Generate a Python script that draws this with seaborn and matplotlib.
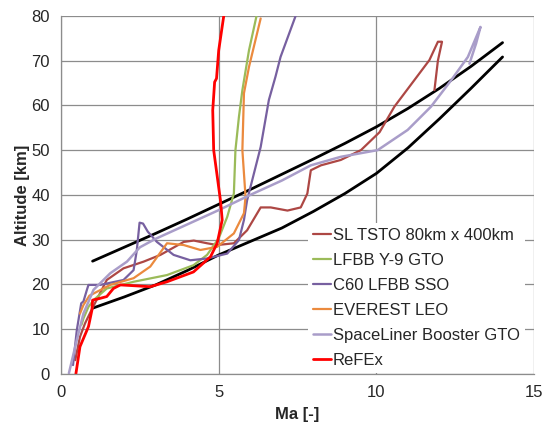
import numpy as np
import pandas as pd
import matplotlib
matplotlib.use("Agg")
import matplotlib.pyplot as plt
import seaborn as sns

# flight corridor bounds (black lines)
upper_ma = [1, 2, 3, 4, 5, 6, 7, 8, 9, 10, 11, 12, 13, 14]
upper_alt = [25.2, 28.3, 31.4, 34.6, 37.9, 41.2, 44.6, 48.0, 51.5, 55.2, 59.3, 63.8, 68.7, 74.0]
lower_ma = [1, 2, 3, 4, 5, 6, 7, 8, 9, 10, 11, 12, 13, 14]
lower_alt = [14.7, 17.2, 19.9, 23.1, 26.6, 29.6, 32.6, 36.3, 40.3, 44.8, 50.5, 57.0, 63.8, 70.8]

# trajectories
sl_ma = [0.45, 0.6, 0.76, 0.98, 1.45, 1.98, 2.62, 3.15, 3.89, 4.21, 4.63, 4.95, 5.48, 5.9, 6.33,
         6.65, 7.18, 7.6, 7.81, 7.92, 8.24, 8.87, 9.51, 10.1, 10.57, 11.2, 11.68, 11.95, 12.08, 11.95, 11.84]
sl_alt = [3.1, 8.3, 11.3, 14.5, 21.0, 23.6, 25.1, 26.6, 29.5, 29.8, 29.2, 28.8, 29.2, 32.1, 37.2,
          37.2, 36.5, 37.2, 40.3, 45.5, 46.6, 47.8, 50.0, 54.0, 59.7, 65.6, 70.1, 74.2, 74.2, 70.0, 63.4]

lfbb_ma = [0.65, 0.71, 0.87, 1.03, 1.45, 2.3, 3.36, 4.2, 4.63, 5.0, 5.27, 5.48, 5.53, 5.64, 5.75, 5.96, 6.2]
lfbb_alt = [11.0, 12.4, 15.0, 16.5, 19.1, 20.6, 22.1, 24.3, 26.6, 30.3, 35.1, 40.3, 50.0, 57.4, 63.4, 72.3, 80.0]

c60_ma = [0.38, 0.5, 0.64, 0.71, 0.82, 0.87, 1.24, 1.98, 2.3, 2.4, 2.49, 2.6, 2.75, 3.04, 3.57, 4.1, 4.63,
          5.27, 5.64, 5.8, 5.9, 6.33, 6.59, 6.8, 6.96, 7.44]
c60_alt = [2.0, 9.8, 15.8, 16.2, 18.8, 19.9, 19.9, 21.0, 23.2, 27.5, 33.8, 33.6, 31.8, 29.5, 26.6, 25.4, 25.8,
           26.9, 29.9, 34.4, 38.8, 50.7, 61.2, 66.4, 70.8, 80.0]

everest_ma = [0.6, 0.71, 0.9, 1.56, 2.3, 2.83, 3.36, 3.89, 4.42, 4.95, 5.48, 5.8, 5.85, 5.75, 5.8, 5.96, 6.33]
everest_alt = [13.5, 15.4, 17.5, 19.9, 21.4, 24.0, 29.2, 28.8, 27.7, 28.4, 31.4, 35.9, 39.6, 50.0, 62.7, 68.6, 79.4]

sp_ma = [0.25, 0.5, 0.71, 1.03, 1.56, 2.09, 2.5, 3.0, 4.0, 5.0, 6.0, 7.0, 7.92, 8.87, 10.04, 10.99,
         11.73, 12.37, 12.9, 13.3, 13.16, 12.95]
sp_alt = [0.2, 7.6, 13.5, 18.8, 22.5, 25.1, 28.3, 30.2, 33.4, 36.6, 40.0, 43.2, 46.6, 48.5, 50.0, 54.5,
          59.7, 65.6, 70.8, 77.5, 73.8, 69.3]

refex_ma = [0.47, 0.6, 0.87, 0.98, 1.0, 1.24, 1.45, 1.66, 1.88, 2.83, 3.36, 4.2, 4.74, 4.95, 5.11,
            5.06, 4.84, 4.81, 4.87, 4.93, 5.0, 5.16]
refex_alt = [0.0, 6.1, 10.6, 14.3, 16.5, 16.9, 17.3, 19.1, 19.9, 19.5, 20.6, 22.8, 26.2, 29.2, 34.4,
             38.5, 50.0, 58.9, 65.2, 66.0, 72.3, 80.0]

series = [
    ("SL TSTO 80km x 400km", sl_ma, sl_alt, "#AD4744", 1.6),
    ("LFBB Y-9 GTO", lfbb_ma, lfbb_alt, "#9BBB59", 1.6),
    ("C60 LFBB SSO", c60_ma, c60_alt, "#7760A0", 1.6),
    ("EVEREST LEO", everest_ma, everest_alt, "#EB8A3E", 1.6),
    ("SpaceLiner Booster GTO", sp_ma, sp_alt, "#A99DC9", 1.8),
    ("ReFEx", refex_ma, refex_alt, "#FF0000", 2.0),
]

sns.set_style("white")
plt.rcParams['font.family'] = ['Liberation Sans', 'DejaVu Sans']

fig = plt.figure(figsize=(5.45, 4.26), dpi=100)
ax = fig.add_axes([0.112, 0.122, 0.868, 0.841])

sns.lineplot(x=upper_ma, y=upper_alt, color="black", linewidth=2.0, sort=False, estimator=None, ax=ax)
sns.lineplot(x=lower_ma, y=lower_alt, color="black", linewidth=2.0, sort=False, estimator=None, ax=ax)

for name, xs, ys, col, lw in series:
    sns.lineplot(x=xs, y=ys, color=col, linewidth=lw, sort=False, estimator=None, label=name, ax=ax)

ax.set_xlim(0, 15)
ax.set_ylim(0, 80)
ax.set_xticks([0, 5, 10, 15])
ax.set_yticks(range(0, 81, 10))
ax.grid(True, color="#8C8C8C", linewidth=0.9)
ax.set_axisbelow(True)
for s in ["top", "right"]:
    ax.spines[s].set_visible(False)
for s in ["left", "bottom"]:
    ax.spines[s].set_color("#8C8C8C")
    ax.spines[s].set_linewidth(0.9)
ax.tick_params(axis="both", direction="out", length=4, width=0.9, color="#8C8C8C",
               labelsize=12, pad=4)
ax.set_xlabel("Ma [-]", fontsize=12, fontweight="bold", labelpad=5)
ax.set_ylabel("Altitude [km]", fontsize=12, fontweight="bold", labelpad=1)

leg = ax.legend(loc="upper left", bbox_to_anchor=(0.522, 0.421), frameon=True, fancybox=False,
                facecolor="white", edgecolor="none", framealpha=1, fontsize=12,
                handlelength=1.1, handletextpad=0.1, labelspacing=0.6, borderpad=0.3,
                borderaxespad=0)
leg.set_zorder(5)

fig.savefig("out.png", dpi=100)
